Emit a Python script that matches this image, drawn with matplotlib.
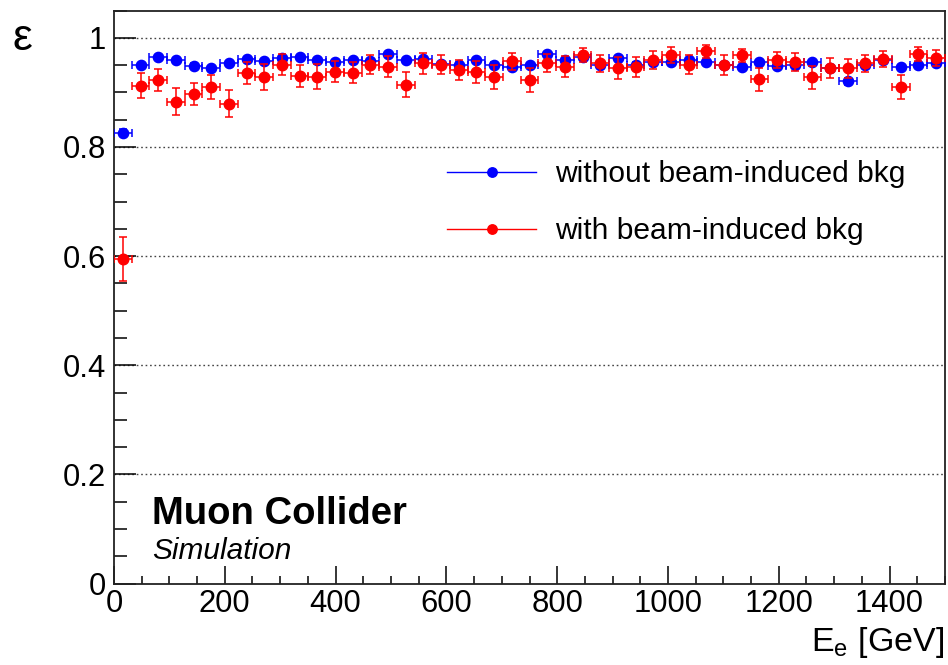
import numpy as np
import matplotlib
matplotlib.use("Agg")
import matplotlib.pyplot as plt
from matplotlib.lines import Line2D
from matplotlib.ticker import MultipleLocator

plt.rcParams['font.family'] = ['Liberation Sans', 'DejaVu Sans']
plt.rcParams['mathtext.default'] = 'regular'

# ---- data ----
bin_edges = np.linspace(0, 1500, 48)  # 47 energy bins [GeV]

eff_nobkg = [0.826, 0.950, 0.964, 0.960, 0.949, 0.944, 0.953, 0.961, 0.958, 0.963,
             0.964, 0.960, 0.955, 0.960, 0.958, 0.971, 0.959, 0.962, 0.952, 0.951,
             0.960, 0.951, 0.947, 0.950, 0.971, 0.960, 0.965, 0.951, 0.963, 0.951,
             0.956, 0.956, 0.960, 0.956, 0.950, 0.947, 0.956, 0.948, 0.950, 0.955,
             0.944, 0.920, 0.950, 0.959, 0.947, 0.951, 0.953]
err_nobkg = [0.006, 0.004, 0.003, 0.003, 0.004, 0.004, 0.004, 0.003, 0.003, 0.003,
             0.003, 0.003, 0.004, 0.003, 0.003, 0.003, 0.003, 0.003, 0.004, 0.004,
             0.003, 0.004, 0.004, 0.004, 0.003, 0.003, 0.003, 0.004, 0.003, 0.004,
             0.004, 0.004, 0.003, 0.004, 0.004, 0.004, 0.004, 0.004, 0.004, 0.004,
             0.004, 0.006, 0.004, 0.003, 0.004, 0.004, 0.004]

eff_bkg = [0.595, 0.912, 0.923, 0.883, 0.897, 0.910, 0.879, 0.936, 0.928, 0.951,
           0.930, 0.929, 0.938, 0.936, 0.951, 0.947, 0.914, 0.953, 0.951, 0.941,
           0.937, 0.928, 0.957, 0.923, 0.954, 0.947, 0.969, 0.953, 0.944, 0.947,
           0.959, 0.968, 0.951, 0.975, 0.950, 0.968, 0.924, 0.959, 0.956, 0.928,
           0.945, 0.944, 0.953, 0.961, 0.909, 0.971, 0.963]
err_bkg = [0.040, 0.023, 0.020, 0.025, 0.021, 0.022, 0.025, 0.020, 0.024, 0.019,
           0.020, 0.023, 0.019, 0.019, 0.018, 0.019, 0.023, 0.019, 0.018, 0.018,
           0.020, 0.022, 0.016, 0.022, 0.017, 0.019, 0.013, 0.016, 0.020, 0.018,
           0.016, 0.015, 0.018, 0.012, 0.018, 0.012, 0.021, 0.015, 0.016, 0.021,
           0.018, 0.018, 0.016, 0.014, 0.022, 0.013, 0.015]

label_nobkg = "without beam-induced bkg"
label_bkg = "with beam-induced bkg"

centers = 0.5 * (bin_edges[:-1] + bin_edges[1:])
xerr = 0.5 * np.diff(bin_edges)

# ---- figure ----
W, H = 948, 665
fig = plt.figure(figsize=(W / 100, H / 100), dpi=100)
L, R, B, T = 114, 945, 583.5, 10.5
ax = fig.add_axes([L / W, (H - B) / H, (R - L) / W, (B - T) / H])

fs = 22.3
ax.set_xlim(0, 1500)
ax.set_ylim(0, 1.05)

for y in [0.2, 0.4, 0.6, 0.8, 1.0]:
    ax.axhline(y, color='#444444', lw=1.0, ls=(0, (1.2, 2.0)), zorder=0)

ax.errorbar(centers, eff_nobkg, yerr=err_nobkg, xerr=xerr, fmt='o', color='#0000ff',
            ms=7.4, elinewidth=1.1, capsize=3.0, capthick=1.1, zorder=3)
ax.errorbar(centers, eff_bkg, yerr=err_bkg, xerr=xerr, fmt='o', color='#ff0000',
            ms=7.6, elinewidth=1.1, capsize=3.0, capthick=1.1, zorder=4)

ax.xaxis.set_major_locator(MultipleLocator(200))
ax.xaxis.set_minor_locator(MultipleLocator(50))
ax.yaxis.set_minor_locator(MultipleLocator(0.05))
ax.set_yticks([0, 0.2, 0.4, 0.6, 0.8, 1.0])
ax.set_yticklabels(['0', '0.2', '0.4', '0.6', '0.8', '1'])

ax.tick_params(axis='both', which='both', direction='in', top=False, right=False,
               labelsize=fs, colors='black', width=1.1)
ax.tick_params(axis='y', which='major', length=16, pad=6)
ax.tick_params(axis='y', which='minor', length=9)
ax.tick_params(axis='x', which='major', length=13, pad=4)
ax.tick_params(axis='x', which='minor', length=6)
for s in ax.spines.values():
    s.set_linewidth(1.3)
    s.set_color('#222222')

# axis titles
fig.text(944 / W, 1 - 625 / H, r'E$_e$ [GeV]', ha='right', va='top', fontsize=24.5)
fig.text(13 / W, 1 - 50 / H, 'ε', fontsize=32, ha='left', va='baseline')

# legend
handles = [Line2D([], [], color='#0000ff', lw=1.0, marker='o', ms=6.8),
           Line2D([], [], color='#ff0000', lw=1.0, marker='o', ms=6.8)]
ax.legend(handles, [label_nobkg, label_bkg], loc='upper left',
          bbox_to_anchor=((447 - L) / (R - L), 1 - (160 - T) / (B - T)),
          frameon=False, fontsize=21.6, handlelength=2.97, handletextpad=0.62,
          labelspacing=0.98, borderpad=0, borderaxespad=0)

# label
fig.text(152 / W, 1 - 524 / H, 'Muon Collider', fontsize=27.5, fontweight='bold',
         ha='left', va='baseline')
fig.text(152 / W, 1 - 559 / H, 'Simulation', fontsize=21.5, style='italic',
         ha='left', va='baseline')

fig.savefig('out.png', dpi=100)
